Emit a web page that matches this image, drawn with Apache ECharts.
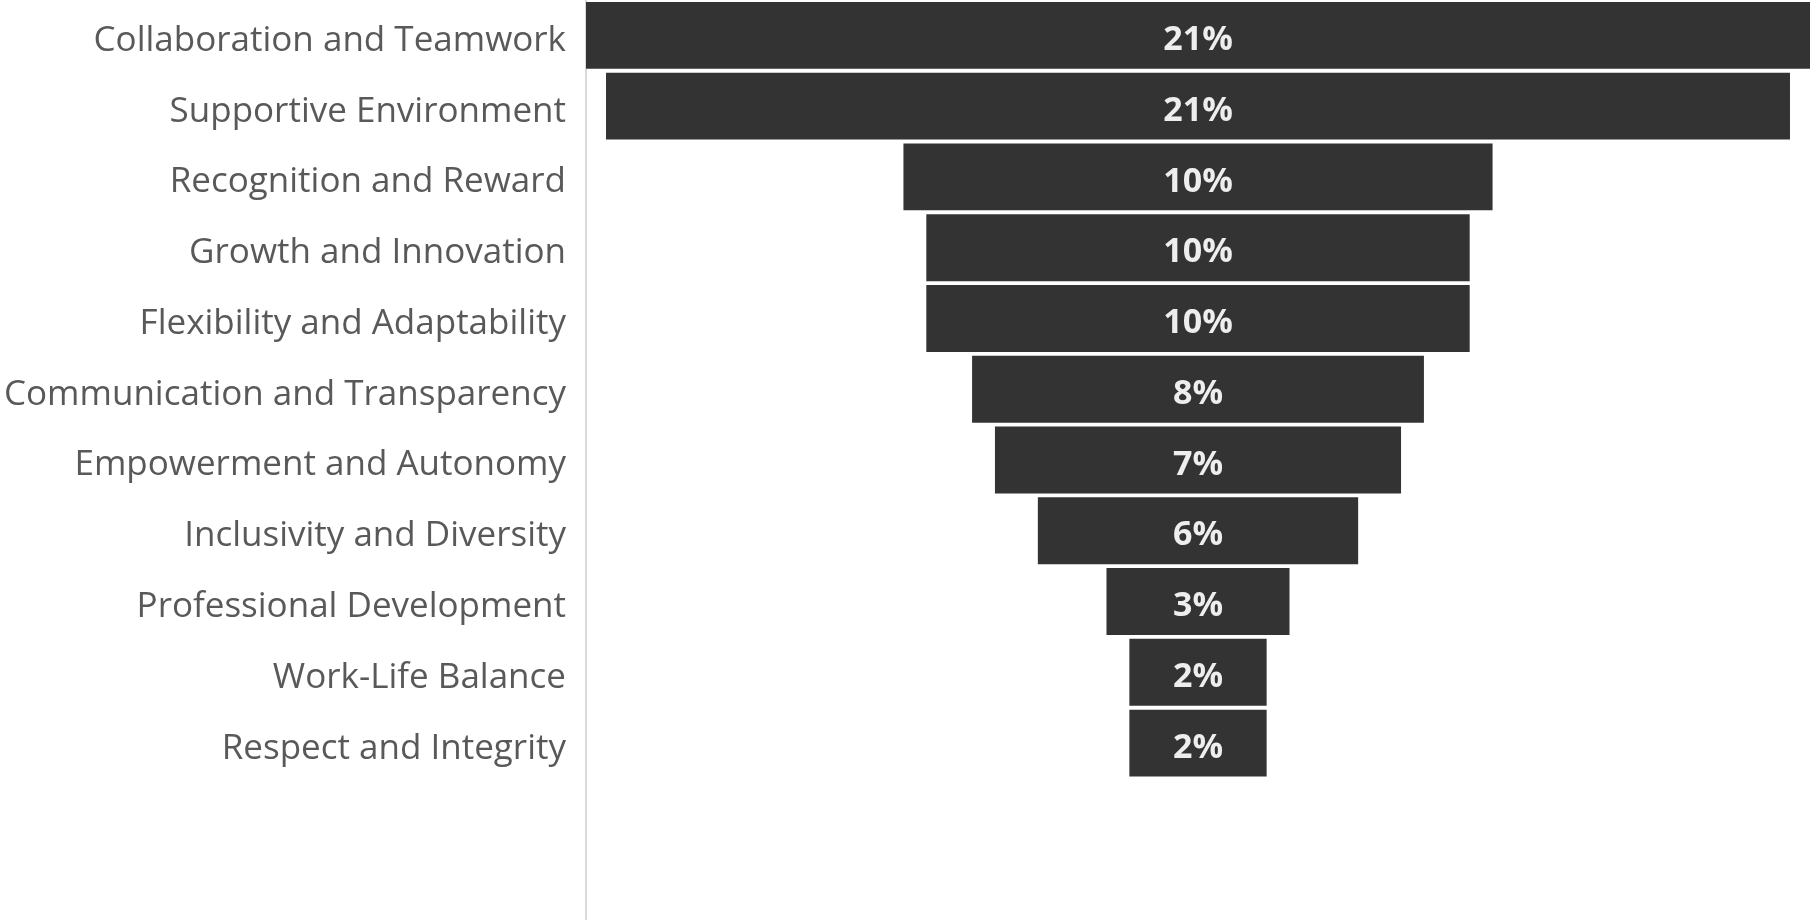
<!DOCTYPE html>
<html>
<head>
<meta charset="utf-8">
<title>Themes</title>
<script src="https://cdn.jsdelivr.net/npm/echarts@6/dist/echarts.min.js"></script>
<style>
  html, body { margin: 0; padding: 0; background: #ffffff; }
  #chart { width: 1810px; height: 920px; }
</style>
</head>
<body>
<div id="chart"></div>
<script>
// Themes, top to bottom
const categories = [
  'Collaboration and Teamwork',
  'Supportive Environment',
  'Recognition and Reward',
  'Growth and Innovation',
  'Flexibility and Adaptability',
  'Communication and Transparency',
  'Empowerment and Autonomy',
  'Inclusivity and Diversity',
  'Professional Development',
  'Work-Life Balance',
  'Respect and Integrity'
];

// Share of mentions per theme, in percent
const shares = [21.4, 20.7, 10.3, 9.5, 9.5, 7.9, 7.1, 5.6, 3.2, 2.4, 2.4];

// Two empty slots below the last theme keep the row spacing
const emptySlots = 2;

const maxShare = Math.max(...shares);
const padCats = categories.concat(Array(emptySlots).fill(''));
// Invisible spacer so each bar sits centred on the widest bar
const spacer = shares.map(v => (maxShare - v) / 2).concat(Array(emptySlots).fill(null));
const visible = shares.concat(Array(emptySlots).fill(null));

const chart = echarts.init(document.getElementById('chart'), null, { renderer: 'canvas' });

chart.setOption({
  animation: false,
  backgroundColor: '#ffffff',
  grid: { left: 586, right: 0, top: 0, bottom: 0, containLabel: false },
  xAxis: {
    type: 'value',
    min: 0,
    max: maxShare,
    show: false
  },
  yAxis: {
    type: 'category',
    inverse: true,
    data: padCats,
    offset: 1,
    axisLine: { show: true, lineStyle: { color: '#d9d9d9', width: 2 } },
    axisTick: { show: false },
    axisLabel: {
      margin: 19,
      formatter: v => v ? '{t|' + v + '}' : '',
      rich: {
        t: {
          color: '#595959',
          fontFamily: 'Open Sans',
          fontSize: 35,
          padding: [11, 0, 0, 0]
        }
      }
    },
    splitLine: { show: false }
  },
  series: [
    {
      type: 'bar',
      stack: 'funnel',
      data: spacer,
      itemStyle: { color: 'transparent' },
      barCategoryGap: '5.5%',
      silent: true
    },
    {
      type: 'bar',
      stack: 'funnel',
      data: visible,
      barCategoryGap: '5.5%',
      itemStyle: { color: '#333333' },
      label: {
        show: true,
        position: 'inside',
        offset: [0, 5],
        formatter: p => Math.round(p.value) + '%',
        color: '#eeeeee',
        fontFamily: 'Open Sans',
        fontWeight: 'bold',
        fontSize: 34
      }
    }
  ]
});
</script>
</body>
</html>
